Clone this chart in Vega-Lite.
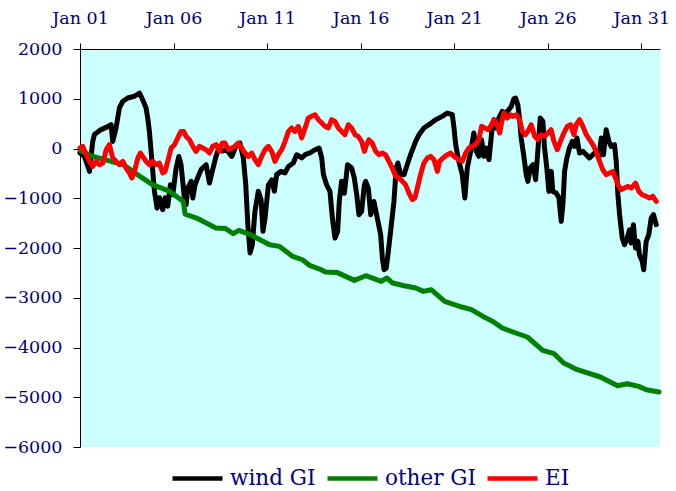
{
"$schema": "https://vega.github.io/schema/vega-lite/v6.json",
"width": 580, "height": 398,
"autosize": {"type": "none"},
"padding": {"left": 80, "top": 49, "right": 16, "bottom": 44},
"background": "white",
"config": {"font": "DejaVu Serif", "view": {"fill": "#CCFFFF", "stroke": null}},
"datasets": {
"wind": [
{"day":0,"value":-90},{"day":0.24,"value":-160},{"day":0.51,"value":-460},{"day":0.68,"value":140},{"day":0.77,"value":280},{"day":1.13,"value":380},{"day":1.49,"value":440},{"day":1.66,"value":480},{"day":1.75,"value":140},{"day":1.93,"value":420},{"day":2.11,"value":820},{"day":2.29,"value":950},{"day":2.55,"value":1015},{"day":2.91,"value":1050},{"day":3.18,"value":1115},{"day":3.35,"value":980},{"day":3.53,"value":815},{"day":3.62,"value":610},{"day":3.71,"value":345},{"day":3.89,"value":-460},{"day":3.98,"value":-860},{"day":4.12,"value":-1200},{"day":4.25,"value":-990},{"day":4.42,"value":-1230},{"day":4.55,"value":-990},{"day":4.69,"value":-1160},{"day":4.83,"value":-730},{"day":4.96,"value":-930},{"day":5.14,"value":-390},{"day":5.28,"value":-160},{"day":5.4,"value":-325},{"day":5.58,"value":-995},{"day":5.67,"value":-1130},{"day":5.76,"value":-795},{"day":5.94,"value":-660},{"day":6.03,"value":-995},{"day":6.15,"value":-730},{"day":6.29,"value":-590},{"day":6.47,"value":-425},{"day":6.74,"value":-325},{"day":6.92,"value":-695},{"day":7.09,"value":-425},{"day":7.27,"value":-160},{"day":7.45,"value":40},{"day":7.6,"value":-50},{"day":7.84,"value":-25},{"day":8.11,"value":-160},{"day":8.37,"value":75},{"day":8.55,"value":110},{"day":8.73,"value":-190},{"day":8.86,"value":-730},{"day":8.97,"value":-1530},{"day":9.09,"value":-2100},{"day":9.21,"value":-1930},{"day":9.35,"value":-1265},{"day":9.53,"value":-860},{"day":9.68,"value":-1030},{"day":9.78,"value":-1665},{"day":9.89,"value":-1400},{"day":10.07,"value":-730},{"day":10.25,"value":-630},{"day":10.39,"value":-860},{"day":10.51,"value":-525},{"day":10.75,"value":-460},{"day":10.96,"value":-490},{"day":11.14,"value":-360},{"day":11.4,"value":-290},{"day":11.58,"value":-125},{"day":11.85,"value":-190},{"day":12.03,"value":-125},{"day":12.29,"value":-90},{"day":12.56,"value":-25},{"day":12.78,"value":10},{"day":12.92,"value":-190},{"day":13.01,"value":-525},{"day":13.18,"value":-730},{"day":13.36,"value":-860},{"day":13.49,"value":-1400},{"day":13.63,"value":-1800},{"day":13.77,"value":-1665},{"day":13.86,"value":-1060},{"day":13.98,"value":-660},{"day":14.13,"value":-900},{"day":14.3,"value":-325},{"day":14.52,"value":-390},{"day":14.66,"value":-590},{"day":14.79,"value":-930},{"day":14.91,"value":-1330},{"day":15.05,"value":-1265},{"day":15.2,"value":-730},{"day":15.27,"value":-660},{"day":15.41,"value":-795},{"day":15.54,"value":-1330},{"day":15.71,"value":-1064},{"day":15.89,"value":-1397},{"day":16.07,"value":-1733},{"day":16.16,"value":-2201},{"day":16.25,"value":-2436},{"day":16.37,"value":-2402},{"day":16.48,"value":-2068},{"day":16.6,"value":-1666},{"day":16.78,"value":-1064},{"day":16.9,"value":-392},{"day":16.99,"value":-291},{"day":17.14,"value":-526},{"day":17.32,"value":-526},{"day":17.49,"value":-325},{"day":17.67,"value":-124},{"day":17.94,"value":143},{"day":18.12,"value":277},{"day":18.38,"value":412},{"day":18.65,"value":478},{"day":19.01,"value":579},{"day":19.36,"value":646},{"day":19.63,"value":713},{"day":19.9,"value":679},{"day":19.99,"value":412},{"day":20.08,"value":76},{"day":20.25,"value":-259},{"day":20.43,"value":-526},{"day":20.57,"value":-995},{"day":20.7,"value":-392},{"day":20.88,"value":-58},{"day":21.05,"value":311},{"day":21.18,"value":-58},{"day":21.32,"value":-158},{"day":21.46,"value":177},{"day":21.59,"value":-158},{"day":21.71,"value":10},{"day":21.86,"value":-225},{"day":22.0,"value":311},{"day":22.12,"value":579},{"day":22.25,"value":412},{"day":22.39,"value":613},{"day":22.57,"value":746},{"day":22.75,"value":713},{"day":22.92,"value":780},{"day":23.05,"value":847},{"day":23.19,"value":1001},{"day":23.28,"value":1015},{"day":23.4,"value":881},{"day":23.49,"value":613},{"day":23.58,"value":211},{"day":23.71,"value":-124},{"day":23.85,"value":-526},{"day":23.94,"value":-661},{"day":24.06,"value":-392},{"day":24.21,"value":-325},{"day":24.35,"value":-627},{"day":24.47,"value":-58},{"day":24.6,"value":613},{"day":24.74,"value":545},{"day":24.83,"value":10},{"day":24.95,"value":-392},{"day":25.06,"value":-862},{"day":25.19,"value":-460},{"day":25.27,"value":-862},{"day":25.45,"value":-895},{"day":25.6,"value":-995},{"day":25.72,"value":-1465},{"day":25.81,"value":-1130},{"day":25.9,"value":-460},{"day":26.02,"value":-192},{"day":26.16,"value":10},{"day":26.31,"value":143},{"day":26.43,"value":43},{"day":26.56,"value":211},{"day":26.7,"value":-91},{"day":26.88,"value":-58},{"day":27.06,"value":-124},{"day":27.23,"value":-192},{"day":27.41,"value":-124},{"day":27.59,"value":-58},{"day":27.73,"value":-192},{"day":27.86,"value":211},{"day":27.98,"value":-124},{"day":28.12,"value":378},{"day":28.27,"value":143},{"day":28.39,"value":43},{"day":28.57,"value":76},{"day":28.66,"value":-259},{"day":28.75,"value":-929},{"day":28.84,"value":-1330},{"day":28.98,"value":-1800},{"day":29.1,"value":-1934},{"day":29.23,"value":-1834},{"day":29.37,"value":-1633},{"day":29.46,"value":-1900},{"day":29.58,"value":-1532},{"day":29.69,"value":-2001},{"day":29.82,"value":-1867},{"day":29.9,"value":-2135},{"day":30.05,"value":-2269},{"day":30.13,"value":-2436},{"day":30.26,"value":-1867},{"day":30.4,"value":-1733},{"day":30.53,"value":-1398},{"day":30.65,"value":-1330},{"day":30.8,"value":-1532}
],
"other": [
{"day":0,"value":-40},{"day":0.69,"value":-160},{"day":1.51,"value":-245},{"day":2.33,"value":-326},{"day":2.95,"value":-495},{"day":3.87,"value":-727},{"day":4.8,"value":-862},{"day":5.52,"value":-1063},{"day":5.62,"value":-1320},{"day":6.23,"value":-1398},{"day":7.26,"value":-1599},{"day":7.78,"value":-1610},{"day":8.19,"value":-1713},{"day":8.49,"value":-1646},{"day":9.11,"value":-1733},{"day":10.14,"value":-1934},{"day":10.65,"value":-1967},{"day":11.37,"value":-2169},{"day":11.89,"value":-2236},{"day":12.3,"value":-2356},{"day":12.81,"value":-2423},{"day":13.12,"value":-2483},{"day":13.73,"value":-2490},{"day":14.66,"value":-2651},{"day":15.28,"value":-2557},{"day":16.1,"value":-2671},{"day":16.4,"value":-2603},{"day":16.71,"value":-2704},{"day":17.33,"value":-2758},{"day":17.95,"value":-2804},{"day":18.35,"value":-2872},{"day":18.77,"value":-2838},{"day":19.49,"value":-3073},{"day":20.41,"value":-3186},{"day":20.92,"value":-3240},{"day":21.54,"value":-3375},{"day":22.06,"value":-3475},{"day":22.57,"value":-3608},{"day":23.29,"value":-3708},{"day":23.91,"value":-3789},{"day":24.73,"value":-4058},{"day":25.34,"value":-4125},{"day":25.85,"value":-4311},{"day":26.58,"value":-4446},{"day":27.81,"value":-4593},{"day":28.73,"value":-4768},{"day":29.25,"value":-4728},{"day":29.86,"value":-4782},{"day":30.27,"value":-4848},{"day":30.95,"value":-4894}
],
"ei": [
{"day":0,"value":10},{"day":0.15,"value":43},{"day":0.33,"value":-124},{"day":0.51,"value":-259},{"day":0.68,"value":-360},{"day":0.86,"value":-259},{"day":1.04,"value":-325},{"day":1.22,"value":-292},{"day":1.4,"value":-24},{"day":1.57,"value":76},{"day":1.75,"value":-191},{"day":1.93,"value":-259},{"day":2.11,"value":-325},{"day":2.29,"value":-259},{"day":2.46,"value":-392},{"day":2.64,"value":-493},{"day":2.77,"value":-593},{"day":2.91,"value":-460},{"day":3.09,"value":-191},{"day":3.23,"value":-91},{"day":3.35,"value":-158},{"day":3.53,"value":-259},{"day":3.71,"value":-325},{"day":3.89,"value":-259},{"day":4.07,"value":-325},{"day":4.24,"value":-292},{"day":4.42,"value":-493},{"day":4.55,"value":-460},{"day":4.69,"value":-259},{"day":4.87,"value":10},{"day":5.05,"value":76},{"day":5.22,"value":211},{"day":5.4,"value":344},{"day":5.54,"value":344},{"day":5.67,"value":244},{"day":5.85,"value":177},{"day":6.03,"value":43},{"day":6.2,"value":-58},{"day":6.38,"value":43},{"day":6.56,"value":10},{"day":6.74,"value":-24},{"day":6.92,"value":-91},{"day":7.09,"value":43},{"day":7.27,"value":76},{"day":7.45,"value":-58},{"day":7.6,"value":110},{"day":7.75,"value":110},{"day":7.93,"value":-24},{"day":8.11,"value":10},{"day":8.29,"value":43},{"day":8.46,"value":110},{"day":8.64,"value":10},{"day":8.82,"value":-91},{"day":9.0,"value":-158},{"day":9.18,"value":-91},{"day":9.35,"value":-225},{"day":9.53,"value":-325},{"day":9.71,"value":-158},{"day":9.89,"value":-24},{"day":10.07,"value":43},{"day":10.25,"value":-58},{"day":10.42,"value":-259},{"day":10.6,"value":-124},{"day":10.78,"value":-24},{"day":10.96,"value":143},{"day":11.14,"value":344},{"day":11.31,"value":412},{"day":11.49,"value":344},{"day":11.67,"value":445},{"day":11.85,"value":211},{"day":12.03,"value":412},{"day":12.2,"value":613},{"day":12.38,"value":646},{"day":12.56,"value":679},{"day":12.74,"value":579},{"day":12.92,"value":512},{"day":13.09,"value":445},{"day":13.27,"value":412},{"day":13.45,"value":579},{"day":13.63,"value":545},{"day":13.81,"value":412},{"day":13.98,"value":344},{"day":14.16,"value":277},{"day":14.34,"value":478},{"day":14.52,"value":412},{"day":14.7,"value":277},{"day":14.87,"value":244},{"day":15.05,"value":143},{"day":15.2,"value":-58},{"day":15.3,"value":60},{"day":15.44,"value":177},{"day":15.62,"value":110},{"day":15.8,"value":-58},{"day":15.98,"value":-124},{"day":16.16,"value":-91},{"day":16.33,"value":-124},{"day":16.51,"value":-259},{"day":16.69,"value":-392},{"day":16.87,"value":-559},{"day":17.05,"value":-593},{"day":17.23,"value":-660},{"day":17.4,"value":-727},{"day":17.58,"value":-895},{"day":17.76,"value":-1029},{"day":17.9,"value":-995},{"day":18.03,"value":-795},{"day":18.2,"value":-526},{"day":18.38,"value":-292},{"day":18.56,"value":-192},{"day":18.74,"value":-158},{"day":18.92,"value":-225},{"day":19.1,"value":-460},{"day":19.22,"value":-259},{"day":19.4,"value":-192},{"day":19.63,"value":-124},{"day":19.81,"value":-91},{"day":19.99,"value":-158},{"day":20.25,"value":-225},{"day":20.43,"value":-259},{"day":20.61,"value":-91},{"day":20.79,"value":10},{"day":20.96,"value":43},{"day":21.14,"value":76},{"day":21.32,"value":177},{"day":21.46,"value":445},{"day":21.64,"value":412},{"day":21.82,"value":378},{"day":22.0,"value":478},{"day":22.12,"value":579},{"day":22.3,"value":478},{"day":22.43,"value":311},{"day":22.53,"value":512},{"day":22.66,"value":713},{"day":22.84,"value":613},{"day":23.02,"value":679},{"day":23.14,"value":646},{"day":23.32,"value":679},{"day":23.49,"value":579},{"day":23.64,"value":344},{"day":23.81,"value":277},{"day":23.99,"value":378},{"day":24.12,"value":478},{"day":24.3,"value":244},{"day":24.47,"value":177},{"day":24.65,"value":277},{"day":24.83,"value":244},{"day":25.01,"value":311},{"day":25.18,"value":378},{"day":25.33,"value":143},{"day":25.51,"value":-24},{"day":25.68,"value":143},{"day":25.86,"value":311},{"day":26.04,"value":445},{"day":26.22,"value":478},{"day":26.4,"value":277},{"day":26.52,"value":478},{"day":26.7,"value":579},{"day":26.88,"value":445},{"day":27.06,"value":277},{"day":27.23,"value":177},{"day":27.41,"value":76},{"day":27.59,"value":-58},{"day":27.77,"value":-259},{"day":27.94,"value":-426},{"day":28.12,"value":-526},{"day":28.3,"value":-493},{"day":28.48,"value":-460},{"day":28.62,"value":-593},{"day":28.75,"value":-727},{"day":28.92,"value":-828},{"day":29.1,"value":-795},{"day":29.28,"value":-761},{"day":29.46,"value":-795},{"day":29.69,"value":-694},{"day":29.87,"value":-862},{"day":30.05,"value":-929},{"day":30.26,"value":-962},{"day":30.44,"value":-995},{"day":30.62,"value":-962},{"day":30.8,"value":-1063}
]
},
"encoding": {
"x": {"field": "day", "type": "quantitative", "scale": {"domain": [0, 31], "nice": false, "zero": false},
 "axis": {"orient": "top", "title": null, "grid": false, "values": [0,5,10,15,20,25,30],
  "labelExpr": "'Jan ' + (datum.value + 1 < 10 ? '0' : '') + (datum.value + 1)",
  "labelFont": "DejaVu Serif", "labelFontSize": 17.5, "labelColor": "#000080", "labelPadding": 16,
  "tickSize": 6, "tickColor": "#000000", "domainColor": "#000000", "labelFlush": false, "labelOverlap": false}},
"y": {"field": "value", "type": "quantitative", "scale": {"domain": [-6000, 2000], "nice": false, "zero": false},
 "axis": {"title": null, "grid": false, "format": "d", "values": [-6000,-5000,-4000,-3000,-2000,-1000,0,1000,2000],
  "labelFont": "DejaVu Serif", "labelFontSize": 17.5, "labelColor": "#000080", "labelPadding": 11,
  "tickSize": 7, "tickColor": "#000000", "domainColor": "#000000", "labelFlush": false, "labelOverlap": false}},
"color": {"field": "series", "type": "nominal",
 "scale": {"domain": ["wind GI", "other GI", "EI"], "range": ["#000000", "#008000", "#FF0000"]},
 "legend": {"title": null, "orient": "none", "direction": "horizontal", "legendX": 90, "legendY": 402,
  "symbolType": "stroke", "symbolSize": 2500, "symbolStrokeWidth": 4.5, "labelFont": "DejaVu Serif",
  "labelFontSize": 21.5, "labelColor": "#000080", "labelOffset": 5, "columnPadding": 2, "symbolOffset": 0}}
},
"layer": [
{"data": {"name": "wind"}, "transform": [{"calculate": "'wind GI'", "as": "series"}],
 "mark": {"type": "line", "strokeWidth": 5, "strokeJoin": "round", "strokeCap": "round"}},
{"data": {"name": "other"}, "transform": [{"calculate": "'other GI'", "as": "series"}],
 "mark": {"type": "line", "strokeWidth": 5, "strokeJoin": "round", "strokeCap": "round"}},
{"data": {"name": "ei"}, "transform": [{"calculate": "'EI'", "as": "series"}],
 "mark": {"type": "line", "strokeWidth": 5, "strokeJoin": "round", "strokeCap": "round"}}
]
}
